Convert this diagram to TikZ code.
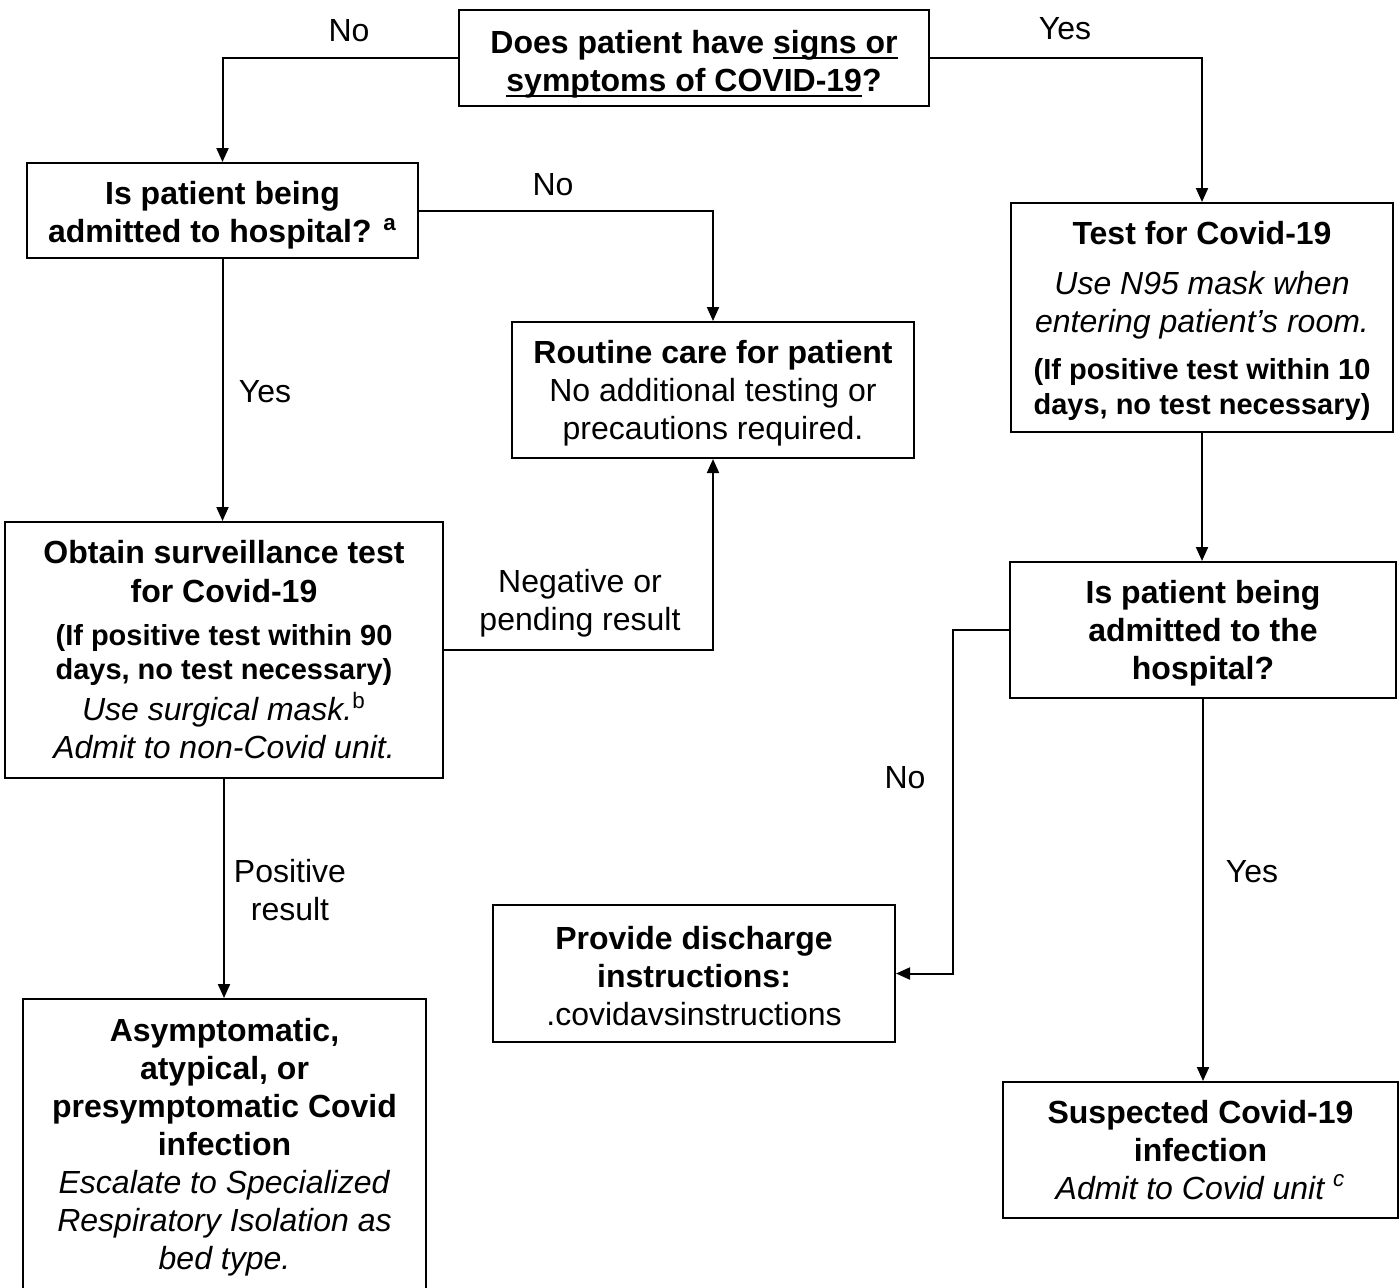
\documentclass[tikz,border=0pt]{standalone}
\usepackage{fontspec}
\setmainfont{Liberation Sans}
\usetikzlibrary{arrows.meta}
\newcommand\smb[1]{{\fontsize{14.5}{17}\selectfont\bfseries #1}}
\newcommand\rg{\fontsize{16}{19}\selectfont}
\newcommand\up[1]{\rule{0pt}{#1}}
\newcommand\ulx[1]{\setbox0\hbox{#1}\rlap{\rule[-3pt]{\wd0}{1pt}}\box0}
\begin{document}
\begin{tikzpicture}[x=0.5pt,y=-0.5pt,
  box/.style={draw,line width=1pt,align=center,inner sep=0pt,font=\rg},
  lbl/.style={align=center,inner sep=0pt,font=\rg},
  conn/.style={line width=1pt,-{Triangle[width=6pt,length=7pt]}}]
\useasboundingbox (0,0) rectangle (1400,1287);
\fill[white] (0,0) rectangle (1400,1287);

\node[box,minimum width=235pt,minimum height=48pt] (b1) at (694,58)
  {\up{17.7pt}\textbf{Does patient have \ulx{signs or}}\\ \textbf{\ulx{symptoms of COVID-19}?}};
\node[box,minimum width=195.5pt,minimum height=47.5pt] (b2) at (222.5,210.5)
  {\up{16.7pt}\textbf{Is patient being}\\ \textbf{admitted to hospital? \textsuperscript{a}}};
\node[box,minimum width=201pt,minimum height=68pt] (b3) at (713,390)
  {\up{14.7pt}\textbf{Routine care for patient}\\ No additional testing or\\ precautions required.};
\node[box,minimum width=191pt,minimum height=114.5pt] (b4) at (1202,317.5)
  {\up{15.2pt}\textbf{Test for Covid-19}\\[6pt] \textit{Use N95 mask when}\\ \textit{entering patient’s room.}\\[4.5pt]
   \smb{(If positive test within 10}\\[-1.5pt] \smb{days, no test necessary)}};
\node[box,minimum width=219pt,minimum height=128pt] (b5) at (224,650)
  {\textbf{Obtain surveillance test}\\[0.5pt] \textbf{for Covid-19}\\[2.5pt]
   \smb{(If positive test within 90}\\[-2pt] \smb{days, no test necessary)}\\[1.5pt]
   \textit{Use surgical mask.}\textsuperscript{b}\\ \textit{Admit to non-Covid unit.}};
\node[box,minimum width=193pt,minimum height=68pt] (b6) at (1203,630)
  {\up{14.7pt}\textbf{Is patient being}\\ \textbf{admitted to the}\\ \textbf{hospital?}};
\node[box,minimum width=201pt,minimum height=68.5pt] (b7) at (694,973.5)
  {\up{13.7pt}\textbf{Provide discharge}\\ \textbf{instructions:}\\ .covidavsinstructions};
\node[box,minimum width=201.5pt,minimum height=145.5pt] (b8) at (224.5,1144.5)
  {\up{14.7pt}\textbf{Asymptomatic,}\\ \textbf{atypical, or}\\ \textbf{presymptomatic Covid}\\ \textbf{infection}\\
   \textit{Escalate to Specialized}\\ \textit{Respiratory Isolation as}\\ \textit{bed type.}};
\node[box,minimum width=197.5pt,minimum height=68pt] (b9) at (1200.5,1150)
  {\textbf{Suspected Covid-19}\\ \textbf{infection}\\ \textit{Admit to Covid unit \textsuperscript{c}}};

\draw[conn] (b1.west) -| (b2.north);
\draw[conn] (b1.east) -| (b4.north);
\draw[conn] (b2.east) -| (b3.north);
\draw[conn] (b2.south) -- (b2.south |- b5.north);
\draw[conn] (b5.east) -| (b3.south);
\draw[conn] (b4.south) -- (b4.south |- b6.north);
\coordinate (k) at (953,630);
\draw[conn] (b6.west) -- (k) |- (b7.east);
\draw[conn] (b6.south) -- (b6.south |- b9.north);
\draw[conn] (b5.south) -- (b5.south |- b8.north);

\node[lbl] (l1) at (349,31) {No};
\node[lbl] (l2) at (1065,29) {Yes};
\node[lbl] (l3) at (553,185) {No};
\node[lbl] (l4) at (265,392) {Yes};
\node[lbl] (l5) at (580,603) {Negative or\\ pending result};
\node[lbl] (l6) at (905,778) {No};
\node[lbl] (l7) at (1252,872) {Yes};
\node[lbl] (l8) at (290,890) {Positive\\ result};
\end{tikzpicture}
\end{document}
